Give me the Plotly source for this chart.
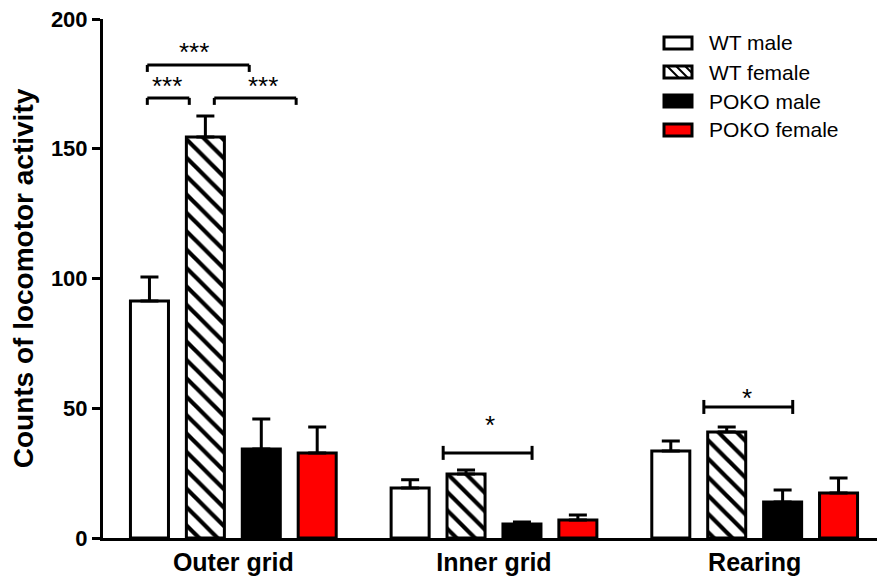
import plotly.graph_objects as go

categories = ["Outer grid", "Inner grid", "Rearing"]
groups = ["WT male", "WT female", "POKO male", "POKO female"]

wt_male = [91.3, 19.3, 33.5]
wt_male_err = [9.3, 3.1, 3.9]
wt_female = [154.5, 24.7, 40.8]
wt_female_err = [8.1, 1.5, 2.0]
poko_male = [34.3, 5.4, 13.9]
poko_male_err = [11.6, 0.8, 4.6]
poko_female = [32.8, 6.9, 17.3]
poko_female_err = [10.0, 2.0, 5.8]

y_ticks = [0, 50, 100, 150, 200]

# significance brackets: (x0, x1, y, leg_style)
brackets = [
    (-0.33, 0.061, 182.3, "down"),
    (-0.33, -0.169, 169.6, "down"),
    (-0.073, 0.241, 169.6, "down"),
    (0.805, 1.146, 32.8, "both"),
    (1.805, 2.146, 50.5, "both"),
]
# significance labels: (x, y, text)
sig_labels = [
    (-0.149, 187.2, "***"),
    (-0.253, 174.3, "***"),
    (0.115, 174.3, "***"),
    (0.985, 43.5, "*"),
    (1.97, 53.8, "*"),
]

FONT = "Arial, Liberation Sans, sans-serif"

# layout geometry (page pixels; the page body has an 8px margin)
OFF = 8
W, H = 885 - OFF, 582 - OFF
ML, MR, MT, MB = 95, 0, 11, 44
PW, PH = W - ML - MR, H - MT - MB


def px(xp):
    return (xp - OFF - ML) / PW


def py(yp):
    return (582 - MB - yp) / PH


series = [
    (groups[0], wt_male, wt_male_err, dict(color="white")),
    (groups[1], wt_female, wt_female_err,
     dict(color="white", pattern=dict(shape="\\", fgcolor="black", bgcolor="white",
                                      fgopacity=1, size=13, solidity=0.32))),
    (groups[2], poko_male, poko_male_err, dict(color="black")),
    (groups[3], poko_female, poko_female_err, dict(color="#ff0000")),
]

fig = go.Figure()
for name, vals, errs, mk in series:
    marker = dict(mk)
    marker["line"] = dict(color="black", width=3)
    fig.add_trace(go.Bar(
        name=name, x=categories, y=vals, marker=marker, showlegend=False,
        error_y=dict(type="data", symmetric=False, array=errs, arrayminus=[0] * len(errs),
                     color="black", thickness=3, width=9),
    ))

leg = 2.7
for x0, x1, y, style in brackets:
    lo = y - leg
    hi = y if style == "down" else y + leg
    fig.add_shape(type="line", x0=x0, x1=x1, y0=y, y1=y, xref="x", yref="y",
                  line=dict(color="black", width=3))
    for xx in (x0, x1):
        fig.add_shape(type="line", x0=xx, x1=xx, y0=lo, y1=hi, xref="x", yref="y",
                      line=dict(color="black", width=3))

for x, y, t in sig_labels:
    fig.add_annotation(x=x, y=y, text=t, xref="x", yref="y", showarrow=False,
                       font=dict(family=FONT, size=26, color="black"))

# custom legend (swatches 28x12 px)
legend_fills = ["white", "white", "black", "#ff0000"]
lx0, lx1, ly0, lstep, lh = 664, 692, 43, 29, 12
for i, (name, fill) in enumerate(zip(groups, legend_fills)):
    cy = ly0 + i * lstep
    fig.add_shape(type="rect", xref="paper", yref="paper",
                  x0=px(lx0), x1=px(lx1), y0=py(cy - lh / 2), y1=py(cy + lh / 2),
                  fillcolor=fill, line=dict(color="black", width=3), layer="above")
    if name == "WT female":
        for sx in (lx0 + 3, lx0 + 12, lx0 + 21):
            ex = min(sx + lh, lx1)
            ey = (cy - lh / 2) + (ex - sx)
            fig.add_shape(type="line", xref="paper", yref="paper",
                          x0=px(sx), x1=px(ex), y0=py(cy - lh / 2), y1=py(ey),
                          line=dict(color="black", width=2), layer="above")
    fig.add_annotation(x=px(lx1 + 15), y=py(cy), xref="paper", yref="paper",
                       text=name, showarrow=False, xanchor="left", yanchor="middle",
                       font=dict(family=FONT, size=21, color="black"))

fig.update_layout(
    width=W, height=H,
    margin=dict(l=ML, r=MR, t=MT, b=MB),
    paper_bgcolor="white", plot_bgcolor="white",
    barmode="group", bargap=0.142, bargroupgap=0.32,
    font=dict(family=FONT, color="black"),
    showlegend=False,
    xaxis=dict(showline=True, linecolor="black", linewidth=3, ticks="", automargin=False,
               ticklabeloverflow="allow",
               tickfont=dict(family=FONT, size=25, color="black", weight="bold"),
               range=[-0.5, 2.5], showgrid=False, zeroline=False),
    yaxis=dict(range=[0, 200], tickvals=y_ticks, showline=True, linecolor="black", linewidth=3,
               ticks="outside", ticklen=8, tickwidth=3, tickcolor="black", automargin=False,
               ticklabeloverflow="allow",
               tickfont=dict(family=FONT, size=22, color="black", weight="bold"),
               title=dict(text="Counts of locomotor activity",
                          font=dict(family=FONT, size=28, color="black", weight="bold"),
                          standoff=12),
               showgrid=False, zeroline=False),
)

fig.write_html("out.html")
